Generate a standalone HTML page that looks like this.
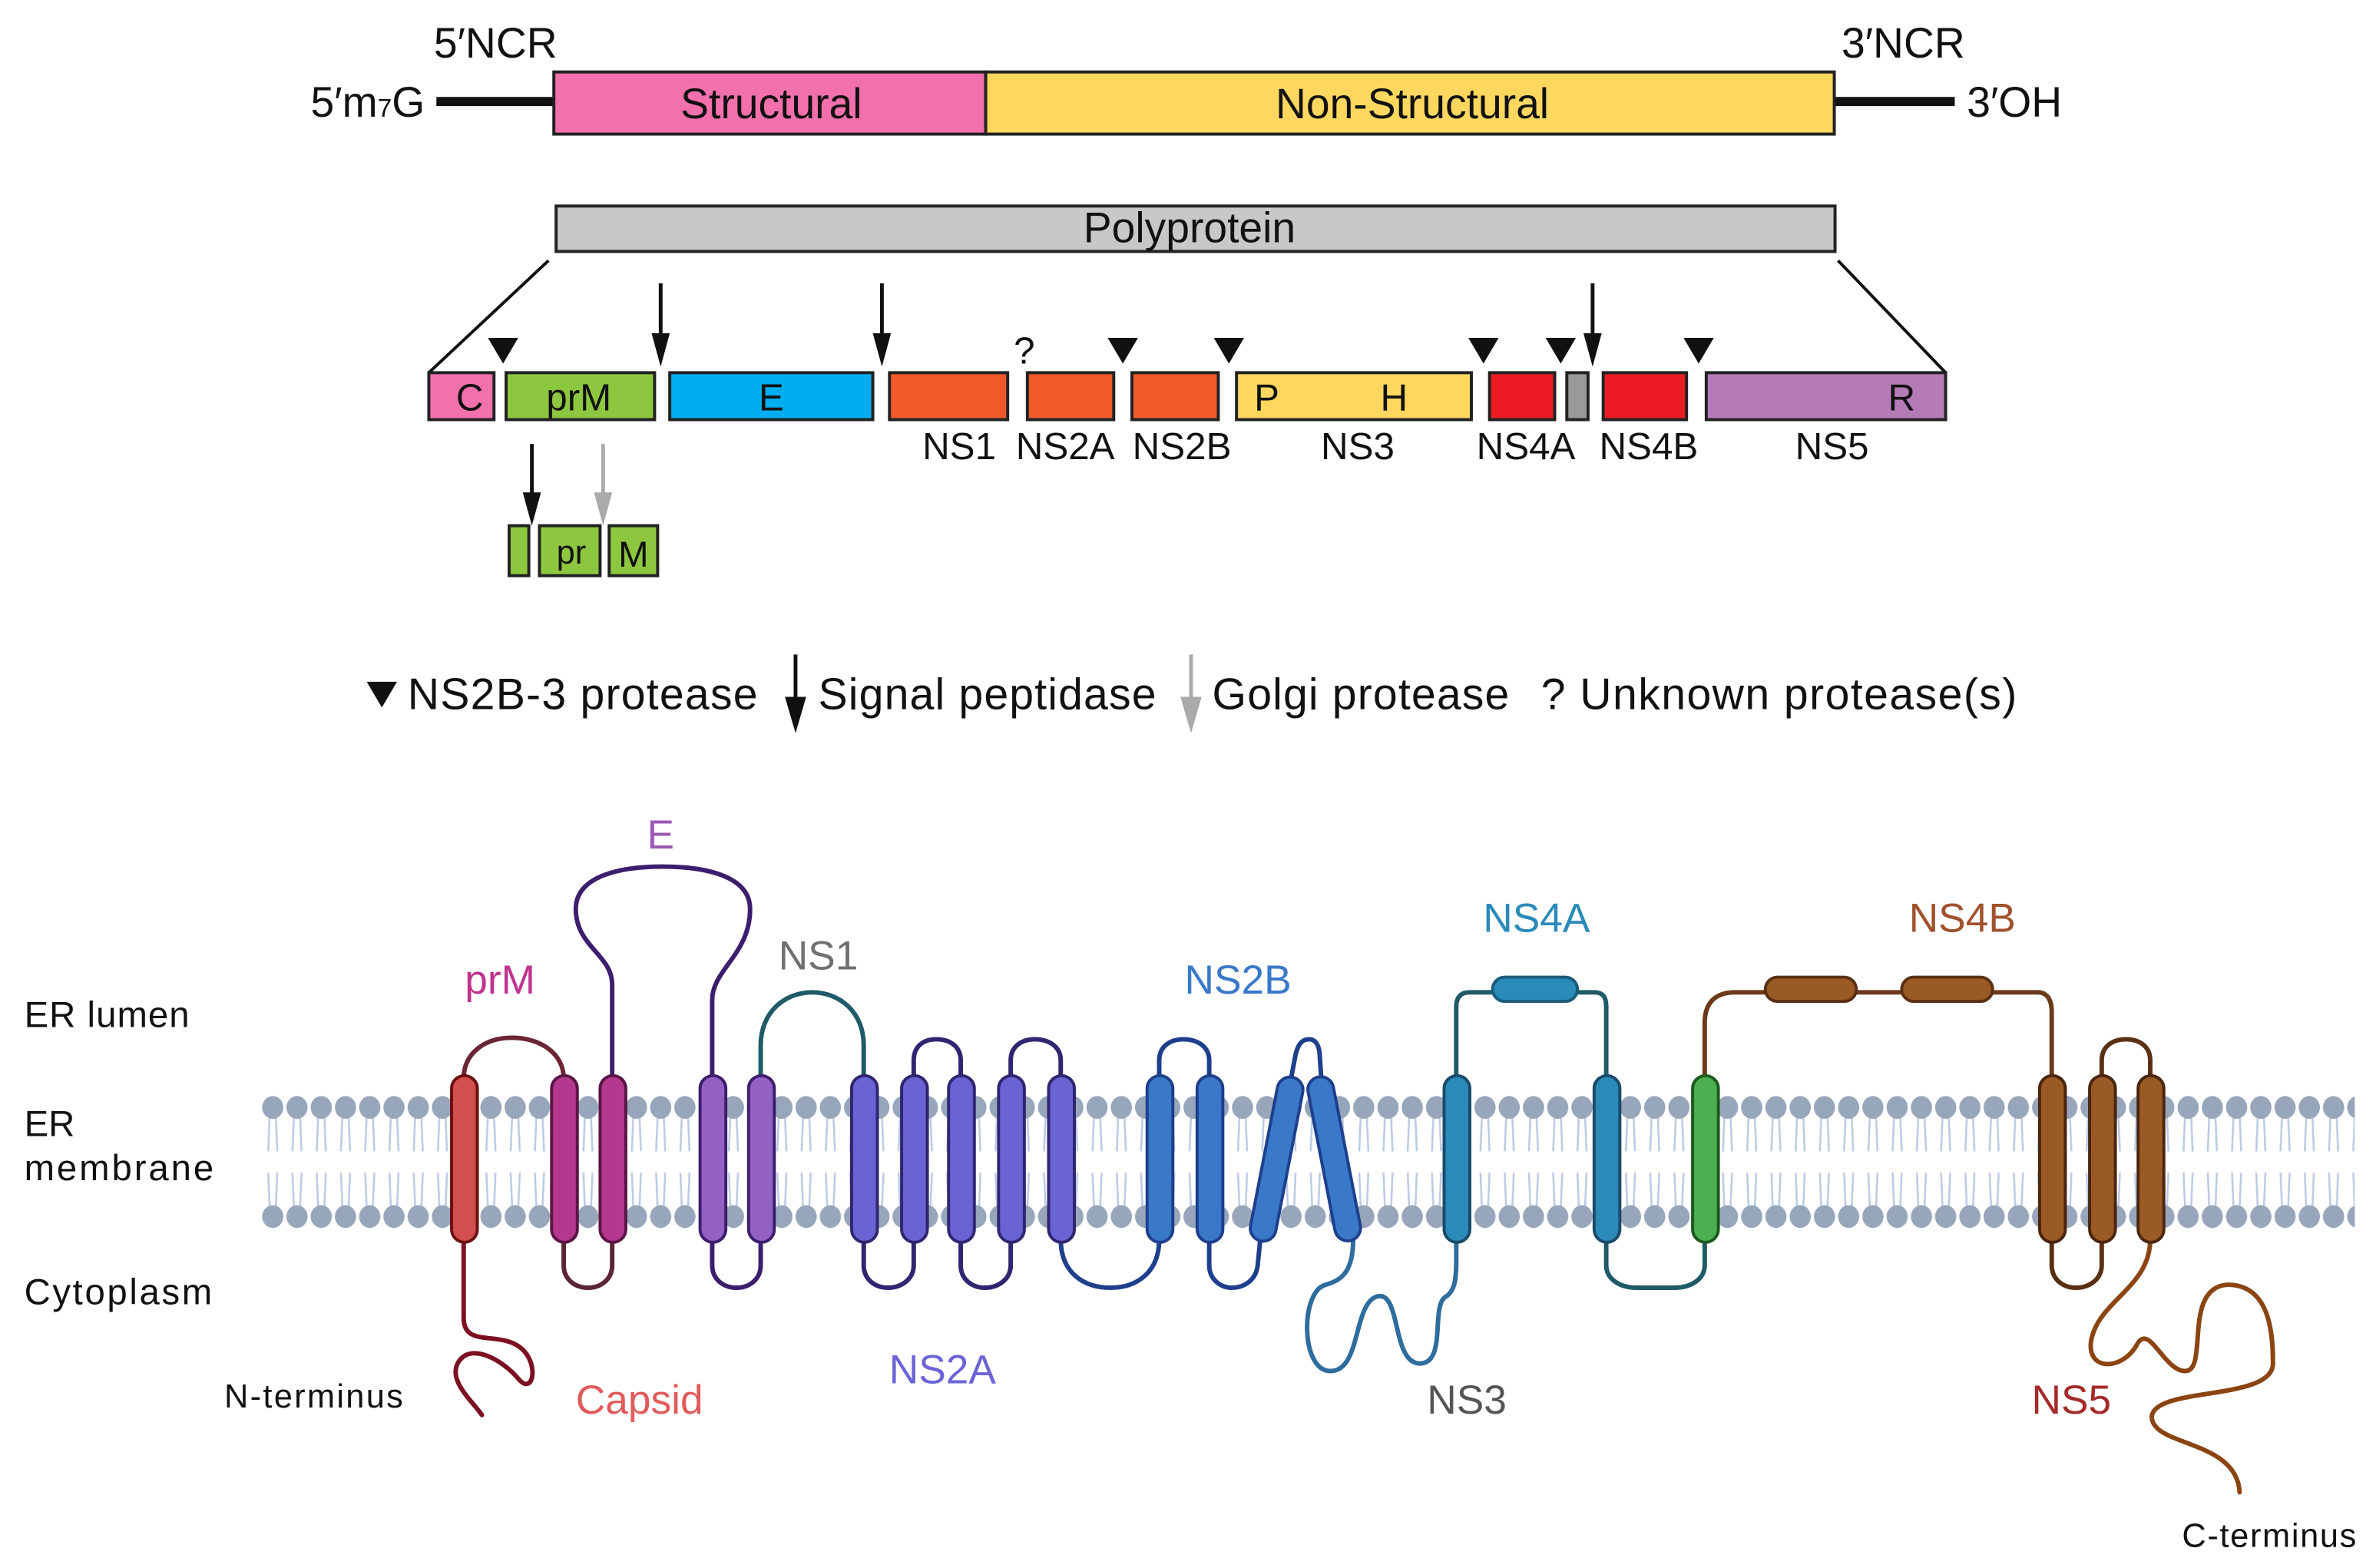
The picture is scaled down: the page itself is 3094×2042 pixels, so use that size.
<!DOCTYPE html>
<html><head><meta charset="utf-8"><style>
html,body{margin:0;padding:0;background:#fff;}
svg{display:block;}
text{font-family:"Liberation Sans",sans-serif;}
</style></head><body>
<svg width="3094" height="2042" viewBox="0 0 1568 1035" preserveAspectRatio="none" xmlns="http://www.w3.org/2000/svg">
<defs>
<pattern id="lip" x="172" y="0" width="16" height="1035" patternUnits="userSpaceOnUse">
<g stroke="#bccbe4" stroke-width="1.3" fill="none">
<path d="M6,736 L5,760 M10,736 L11,760 M5,774 L6,798 M11,774 L10,798"/>
</g>
<ellipse cx="8" cy="731" rx="7" ry="7.5" fill="#97a6ba"/>
<ellipse cx="8" cy="803" rx="7" ry="7.5" fill="#97a6ba"/>
</pattern>
</defs>
<rect width="1568" height="1035" fill="#fff"/>

<!-- Genome -->
<g font-size="28" fill="#111">
<text x="327" y="38" text-anchor="middle">5′NCR</text>
<text x="1256" y="38" text-anchor="middle">3′NCR</text>
<text x="205" y="77">5′m<tspan font-size="17">7</tspan>G</text>
<text x="1298" y="77">3′OH</text>
</g>
<rect x="288" y="64" width="78" height="6" fill="#111"/>
<rect x="1210" y="64" width="80" height="6" fill="#111"/>
<rect x="365.5" y="47.5" width="285" height="41" fill="#f270ac" stroke="#222" stroke-width="2"/>
<rect x="650.5" y="47.5" width="560" height="41" fill="#fed75f" stroke="#222" stroke-width="2"/>
<text x="509" y="78" font-size="28" text-anchor="middle" fill="#111">Structural</text>
<text x="932" y="78" font-size="28" text-anchor="middle" fill="#111">Non-Structural</text>

<rect x="367" y="136" width="844" height="30" fill="#c8c8c8" stroke="#222" stroke-width="2"/>
<text x="785" y="160" font-size="28" text-anchor="middle" fill="#111">Polyprotein</text>
<line x1="362" y1="172" x2="283" y2="246" stroke="#111" stroke-width="2"/>
<line x1="1213" y1="172" x2="1284" y2="246" stroke="#111" stroke-width="2"/>

<g stroke="#222" stroke-width="2">
<rect x="283" y="246" width="43" height="31" fill="#f270ac"/>
<rect x="334" y="246" width="98" height="31" fill="#8dc63f"/>
<rect x="442" y="246" width="134" height="31" fill="#00aeef"/>
<rect x="587" y="246" width="78" height="31" fill="#f15a29"/>
<rect x="678" y="246" width="57" height="31" fill="#f15a29"/>
<rect x="747" y="246" width="57" height="31" fill="#f15a29"/>
<rect x="816" y="246" width="155" height="31" fill="#fed75f"/>
<rect x="983" y="246" width="43" height="31" fill="#ed1c24"/>
<rect x="1034" y="246" width="14" height="31" fill="#999"/>
<rect x="1058" y="246" width="55" height="31" fill="#ed1c24"/>
<rect x="1126" y="246" width="158" height="31" fill="#b57bb8"/>
</g>
<g font-size="25" fill="#111" text-anchor="middle">
<text x="310" y="271">C</text><text x="382" y="271">prM</text><text x="509" y="271">E</text>
<text x="836" y="271">P</text><text x="920" y="271">H</text><text x="1255" y="271">R</text>
<text x="633" y="303">NS1</text><text x="703" y="303">NS2A</text><text x="780" y="303">NS2B</text>
<text x="896" y="303">NS3</text><text x="1007" y="303">NS4A</text><text x="1088" y="303">NS4B</text><text x="1209" y="303">NS5</text>
<text x="676" y="240">?</text>
</g>
<g fill="#111">
<path d="M322,223 h20 l-10,17z"/><path d="M731,223 h20 l-10,17z"/><path d="M801,223 h20 l-10,17z"/>
<path d="M969,223 h20 l-10,17z"/><path d="M1020,223 h20 l-10,17z"/><path d="M1111,223 h20 l-10,17z"/>
</g>
<g stroke="#111" stroke-width="2.5">
<line x1="436" y1="187" x2="436" y2="225"/><line x1="582" y1="187" x2="582" y2="225"/><line x1="1051" y1="187" x2="1051" y2="225"/>
<line x1="351" y1="293" x2="351" y2="330"/>
</g>
<g fill="#111">
<path d="M430,220 h12 l-6,22z"/><path d="M576,220 h12 l-6,22z"/><path d="M1045,220 h12 l-6,22z"/><path d="M345,325 h12 l-6,22z"/>
</g>
<line x1="398" y1="293" x2="398" y2="330" stroke="#aaa" stroke-width="2.5"/>
<path d="M392,325 h12 l-6,22z" fill="#aaa"/>
<g stroke="#222" stroke-width="2" fill="#8dc63f">
<rect x="336" y="347" width="13" height="33"/><rect x="356" y="347" width="40" height="33"/><rect x="402" y="347" width="32" height="33"/>
</g>
<text x="377" y="372" font-size="22" text-anchor="middle" fill="#111">pr</text>
<text x="418" y="374" font-size="24" text-anchor="middle" fill="#111">M</text>

<!-- legend -->
<path d="M242,450 h20 l-10,17z" fill="#111"/>
<text x="269" y="468" font-size="29" fill="#111" textLength="231">NS2B-3 protease</text>
<line x1="525" y1="432" x2="525" y2="465" stroke="#111" stroke-width="2.5"/>
<path d="M518,460 h14 l-7,24z" fill="#111"/>
<text x="540" y="468" font-size="29" fill="#111" textLength="223">Signal peptidase</text>
<line x1="786" y1="432" x2="786" y2="465" stroke="#aaa" stroke-width="2.5"/>
<path d="M779,460 h14 l-7,24z" fill="#aaa"/>
<text x="800" y="468" font-size="29" fill="#111" textLength="196">Golgi protease</text>
<text x="1017" y="468" font-size="29" fill="#111" textLength="314">? Unknown protease(s)</text>

<!-- membrane -->
<rect x="172" y="720" width="1382" height="95" fill="url(#lip)"/>
<g font-size="24" fill="#111">
<text x="16" y="678" textLength="109">ER lumen</text>
<text x="16" y="750">ER</text>
<text x="16" y="779" textLength="125">membrane</text>
<text x="16" y="861" textLength="124">Cytoplasm</text>
<text x="148" y="929" font-size="22" textLength="118">N-terminus</text>
<text x="1440" y="1021" font-size="22" textLength="115">C-terminus</text>
</g>
<g font-size="27" text-anchor="middle">
<text x="330" y="656" fill="#c0338f">prM</text>
<text x="436" y="560" fill="#9b59b6">E</text>
<text x="540" y="640" fill="#707070">NS1</text>
<text x="817" y="656" fill="#3a78c8">NS2B</text>
<text x="1014" y="615" fill="#2a8ab8">NS4A</text>
<text x="1295" y="615" fill="#a0522d">NS4B</text>
<text x="622" y="913" fill="#6b63d6">NS2A</text>
<text x="422" y="933" fill="#e05a5a">Capsid</text>
<text x="968" y="933" fill="#555">NS3</text>
<text x="1367" y="933" fill="#a52a2a">NS5</text>
</g>

<!-- loops -->
<g fill="none" stroke-width="3" stroke-linecap="round">
<path d="M306,818 V870 C306,890 330,878 344,890 C356,900 352,922 342,910 C332,898 310,885 302,900 C296,912 312,925 318,934" stroke="#7b1020"/>
<path d="M306,712 C306,695 320,685 338,685 C356,685 372,695 372,712" stroke="#6b2535"/>
<path d="M372,818 V835 C372,845 380,850 388,850 C396,850 404,845 404,835 V818" stroke="#5a2535"/>
<path d="M404,712 V650 C404,630 380,625 380,600 C380,578 410,572 437,572 C465,572 495,578 495,600 C495,630 470,640 470,660 V712" stroke="#3d1e6d"/>
<path d="M470,818 V835 C470,845 478,850 486,850 C494,850 502,845 502,835 V818" stroke="#3d1e6d"/>
<path d="M502,712 V690 C502,668 518,655 536,655 C554,655 570,668 570,690 V712" stroke="#1f5a66"/>
<path d="M570,818 V835 C570,845 578,850 586,850 C594,850 603,845 603,835 V818" stroke="#2f2670"/>
<path d="M603,712 V700 C603,690 610,686 618,686 C626,686 634,690 634,700 V712" stroke="#2f2670"/>
<path d="M634,818 V835 C634,845 642,850 650,850 C658,850 667,845 667,835 V818" stroke="#2f2670"/>
<path d="M667,712 V700 C667,690 675,686 683,686 C691,686 700,690 700,700 V712" stroke="#2f2670"/>
<path d="M700,818 C700,840 715,850 733,850 C750,850 765,840 765,818" stroke="#1e3f8c"/>
<path d="M765,712 V700 C765,690 773,686 781,686 C789,686 798,690 798,700 V712" stroke="#1e3f8c"/>
<path d="M798,818 V835 C798,845 806,850 813,850 C821,850 829,845 830,835 L832,815" stroke="#1e3f8c"/>
<path d="M852,712 L855,696 C857,688 860,686 864,686 C868,686 871,690 871,698 L872,712" stroke="#1e3f8c"/>
<path d="M893,818 C893,840 885,845 875,848 C858,852 858,905 878,905 C898,905 893,862 908,856 C925,850 918,900 937,900 C955,900 944,862 954,856 C962,851 961,840 961,818" stroke="#2e6d9c"/>
<path d="M961,712 V665 C961,658 964,655 970,655 H1052 C1058,655 1060,658 1060,665 V712" stroke="#1f5a66"/>
<path d="M1060,818 V835 C1060,845 1070,850 1080,850 H1105 C1115,850 1125,845 1125,835 V818" stroke="#1f5a66"/>
<path d="M1125,712 V675 C1125,662 1132,655 1145,655 H1345 C1351,655 1354,660 1354,668 V712" stroke="#6b3a1a"/>
<path d="M1354,818 V835 C1354,845 1362,850 1370,850 C1378,850 1387,845 1387,835 V818" stroke="#5a3015"/>
<path d="M1387,712 V700 C1387,690 1395,686 1403,686 C1411,686 1419,690 1419,700 V712" stroke="#5a3015"/>
<path d="M1419,818 C1419,850 1385,858 1380,885 C1377,905 1400,905 1410,888 C1418,872 1428,905 1442,905 C1458,905 1440,850 1470,848 C1498,848 1500,880 1500,900 C1500,925 1422,915 1420,935 C1420,955 1476,950 1478,985" stroke="#8b4513"/>
</g>
<rect x="985" y="645" width="56" height="16" rx="8" fill="#2a8ab8" stroke="#1a5a7a" stroke-width="2"/>
<rect x="1165" y="645" width="60" height="16" rx="8" fill="#9a5a25" stroke="#5a3015" stroke-width="2"/>
<rect x="1255" y="645" width="60" height="16" rx="8" fill="#9a5a25" stroke="#5a3015" stroke-width="2"/>

<!-- helices -->
<g stroke-width="2">
<rect x="298" y="710" width="17" height="110" rx="8.5" fill="#d24f4f" stroke="#6b1010"/>
<rect x="364" y="710" width="17" height="110" rx="8.5" fill="#b5388f" stroke="#5a1545"/>
<rect x="396" y="710" width="17" height="110" rx="8.5" fill="#b5388f" stroke="#5a1545"/>
<rect x="462" y="710" width="17" height="110" rx="8.5" fill="#9360c4" stroke="#3d1e6d"/>
<rect x="494" y="710" width="17" height="110" rx="8.5" fill="#9360c4" stroke="#3d1e6d"/>
<rect x="562" y="710" width="17" height="110" rx="8.5" fill="#6a63d4" stroke="#2f2670"/>
<rect x="595" y="710" width="17" height="110" rx="8.5" fill="#6a63d4" stroke="#2f2670"/>
<rect x="626" y="710" width="17" height="110" rx="8.5" fill="#6a63d4" stroke="#2f2670"/>
<rect x="659" y="710" width="17" height="110" rx="8.5" fill="#6a63d4" stroke="#2f2670"/>
<rect x="692" y="710" width="17" height="110" rx="8.5" fill="#6a63d4" stroke="#2f2670"/>
<rect x="757" y="710" width="17" height="110" rx="8.5" fill="#3a78c8" stroke="#1e3f8c"/>
<rect x="790" y="710" width="17" height="110" rx="8.5" fill="#3a78c8" stroke="#1e3f8c"/>
<rect x="834" y="710" width="17" height="110" rx="8.5" fill="#3a78c8" stroke="#1e3f8c" transform="rotate(11 842 765)"/>
<rect x="872" y="710" width="17" height="110" rx="8.5" fill="#3a78c8" stroke="#1e3f8c" transform="rotate(-11 880 765)"/>
<rect x="953" y="710" width="17" height="110" rx="8.5" fill="#2a8ab8" stroke="#1a4a6a"/>
<rect x="1052" y="710" width="17" height="110" rx="8.5" fill="#2a8ab8" stroke="#1a4a6a"/>
<rect x="1117" y="710" width="17" height="110" rx="8.5" fill="#4caf50" stroke="#1e5a20"/>
<rect x="1346" y="710" width="17" height="110" rx="8.5" fill="#9a5a25" stroke="#4a2510"/>
<rect x="1379" y="710" width="17" height="110" rx="8.5" fill="#9a5a25" stroke="#4a2510"/>
<rect x="1411" y="710" width="17" height="110" rx="8.5" fill="#9a5a25" stroke="#4a2510"/>
</g>
</svg>
</body></html>
